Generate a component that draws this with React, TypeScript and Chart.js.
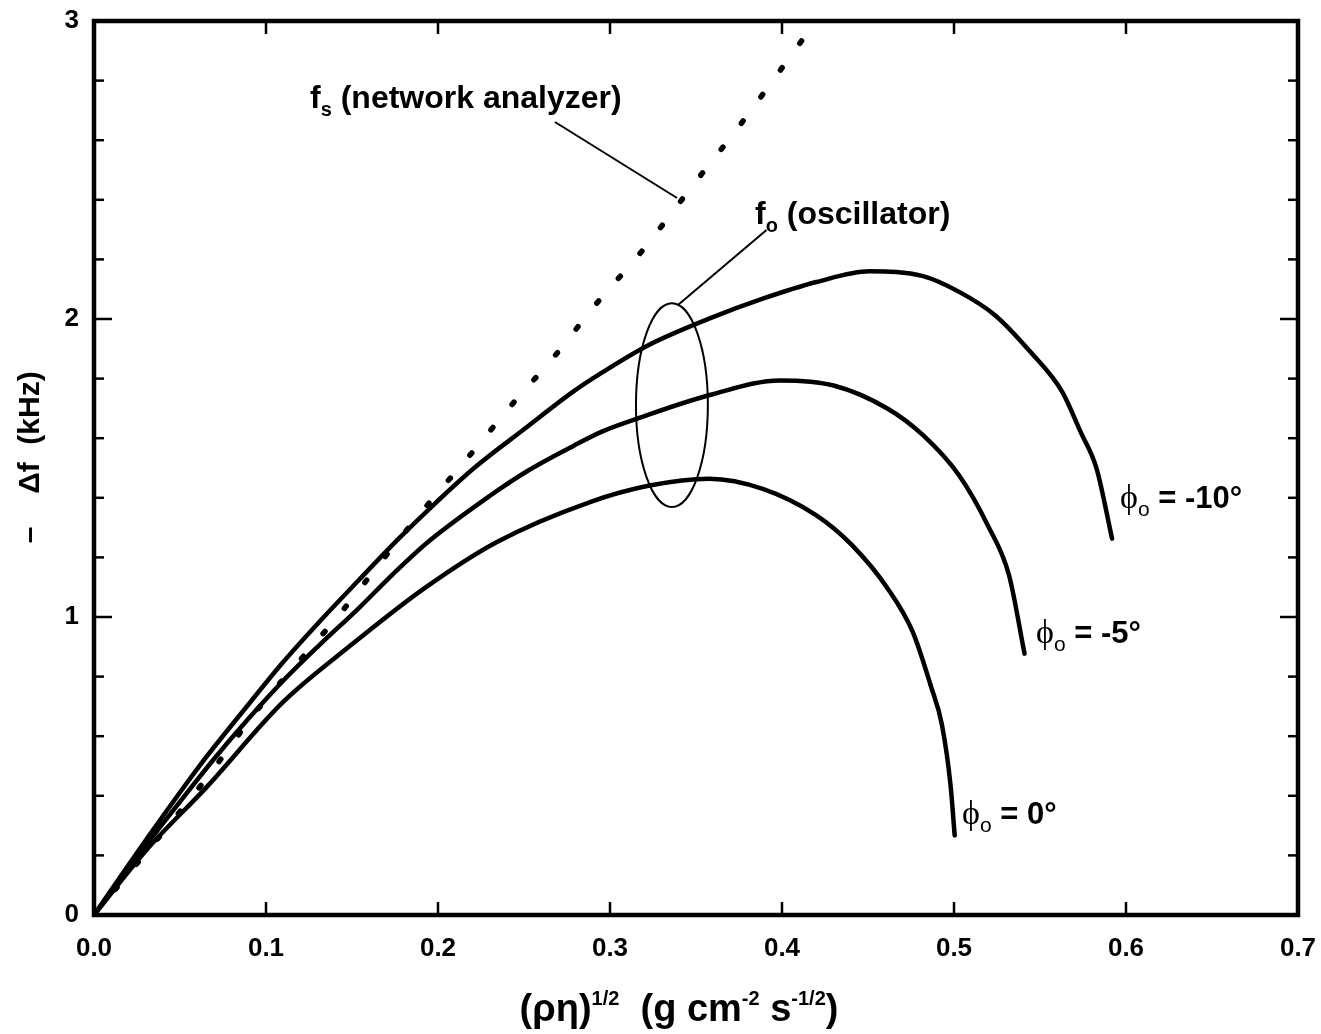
import React, { useEffect, useRef } from "react";
import { Chart, registerables } from "chart.js";

Chart.register(...registerables);

const W = 1321;
const H = 1034;

// Axis ticks
const xTickValues = [0, 0.1, 0.2, 0.3, 0.4, 0.5, 0.6, 0.7];
const yTickValues = [0, 1, 2, 3];
const yMinorTickValues = [0.2, 0.4, 0.6, 0.8, 1.2, 1.4, 1.6, 1.8, 2.2, 2.4, 2.6, 2.8];

// phi_o = 0 deg
const phi0X = [0, 0.03, 0.0656, 0.11, 0.148, 0.192, 0.234, 0.288, 0.323, 0.3576, 0.3888, 0.42, 0.4407, 0.4615, 0.476, 0.4864, 0.493, 0.498, 0.5004];
const phi0Y = [0, 0.215, 0.43, 0.715, 0.899, 1.096, 1.251, 1.385, 1.441, 1.464, 1.43, 1.341, 1.241, 1.095, 0.95, 0.771, 0.638, 0.435, 0.267];

// phi_o = -5 deg
const phi5X = [0, 0.03, 0.05, 0.07, 0.09, 0.11, 0.13, 0.154, 0.174, 0.194, 0.23, 0.252, 0.279, 0.2953, 0.317, 0.3576, 0.399, 0.43, 0.4615, 0.482, 0.503, 0.5196, 0.532, 0.541];
const phi5Y = [0, 0.232, 0.38, 0.525, 0.66, 0.786, 0.9, 1.03, 1.145, 1.251, 1.406, 1.49, 1.575, 1.622, 1.668, 1.744, 1.794, 1.777, 1.699, 1.61, 1.475, 1.308, 1.14, 0.877];

// phi_o = -10 deg
const phi10X = [0, 0.03, 0.0618, 0.09, 0.11, 0.132, 0.154, 0.177, 0.199, 0.221, 0.25, 0.279, 0.2953, 0.3223, 0.3576, 0.3888, 0.42, 0.451, 0.482, 0.503, 0.524, 0.5445, 0.563, 0.5736, 0.5829, 0.5919];
const phi10Y = [0, 0.25, 0.504, 0.708, 0.849, 0.99, 1.124, 1.262, 1.385, 1.5, 1.63, 1.758, 1.82, 1.912, 2.001, 2.068, 2.124, 2.16, 2.144, 2.091, 2.012, 1.889, 1.755, 1.621, 1.498, 1.263];

// f_s (network analyzer), dotted
const fsX = [0, 0.063, 0.0967, 0.121, 0.146, 0.17, 0.194, 0.219, 0.243, 0.268, 0.292, 0.317, 0.352, 0.3756, 0.416];
const fsY = [0, 0.441, 0.701, 0.863, 1.032, 1.208, 1.377, 1.546, 1.713, 1.877, 2.051, 2.217, 2.477, 2.651, 2.97];

// Annotation anchors (data units)
const fsLabelAt = { x: 0.1256, y: 2.708 };
const fsLeader = [{ x: 0.268, y: 2.661 }, { x: 0.339, y: 2.406 }];
const foLabelAt = { x: 0.3843, y: 2.319 };
const foLeader = [{ x: 0.391, y: 2.299 }, { x: 0.3395, y: 2.047 }];
const ellipseAt = { x: 0.336, y: 1.711, rx: 0.0209, ry: 0.342 };
const phiLabels = [
  { value: "-10°", x: 0.5965, y: 1.366 },
  { value: "-5°", x: 0.5477, y: 0.913 },
  { value: "0°", x: 0.5047, y: 0.305 },
];

const SANS = "'Liberation Sans', Arial, Helvetica, sans-serif";
const SERIF = "'Liberation Serif', 'DejaVu Serif', serif";

type Part = { t: string; font: string; dy?: number };

function richWidth(ctx: CanvasRenderingContext2D, parts: Part[]) {
  let w = 0;
  for (const p of parts) {
    ctx.font = p.font;
    w += ctx.measureText(p.t).width;
  }
  return w;
}

function drawRich(ctx: CanvasRenderingContext2D, x: number, y: number, parts: Part[]) {
  let cx = x;
  for (const p of parts) {
    ctx.font = p.font;
    ctx.fillText(p.t, cx, y + (p.dy || 0));
    cx += ctx.measureText(p.t).width;
  }
}

const decorPlugin = {
  id: "decor",
  afterDraw(chart: any) {
    const ctx: CanvasRenderingContext2D = chart.ctx;
    const xs = chart.scales.x;
    const ys = chart.scales.y;
    const { left, right, top, bottom } = chart.chartArea;
    const X = (v: number) => xs.getPixelForValue(v);
    const Y = (v: number) => ys.getPixelForValue(v);
    const seg = (x1: number, y1: number, x2: number, y2: number) => {
      ctx.beginPath();
      ctx.moveTo(x1, y1);
      ctx.lineTo(x2, y2);
      ctx.stroke();
    };

    ctx.save();
    ctx.strokeStyle = "#000";
    ctx.fillStyle = "#000";

    // frame
    ctx.lineWidth = 4.5;
    ctx.lineJoin = "miter";
    ctx.strokeRect(left, top, right - left, bottom - top);

    // inward ticks
    ctx.lineWidth = 2.5;
    for (const v of xTickValues) {
      if (v <= 0 || v >= 0.7) continue;
      const px = X(v);
      seg(px, bottom, px, bottom - 13);
      seg(px, top, px, top + 13);
    }
    for (const v of yMinorTickValues) {
      const py = Y(v);
      seg(left, py, left + 10, py);
      seg(right, py, right - 10, py);
    }
    for (const v of yTickValues) {
      if (v <= 0 || v >= 3) continue;
      const py = Y(v);
      seg(left, py, left + 18, py);
      seg(right, py, right - 18, py);
    }

    // ellipse around oscillator curves
    ctx.lineWidth = 2;
    ctx.beginPath();
    ctx.ellipse(
      X(ellipseAt.x),
      Y(ellipseAt.y),
      X(ellipseAt.x + ellipseAt.rx) - X(ellipseAt.x),
      Y(ellipseAt.y) - Y(ellipseAt.y + ellipseAt.ry),
      0,
      0,
      Math.PI * 2
    );
    ctx.stroke();

    // leader lines
    seg(X(fsLeader[0].x), Y(fsLeader[0].y), X(fsLeader[1].x), Y(fsLeader[1].y));
    seg(X(foLeader[0].x), Y(foLeader[0].y), X(foLeader[1].x), Y(foLeader[1].y));

    ctx.textBaseline = "alphabetic";
    ctx.textAlign = "left";

    const big = `bold 32px ${SANS}`;
    const sub = `bold 20px ${SANS}`;

    // f_s label
    drawRich(ctx, X(fsLabelAt.x), Y(fsLabelAt.y), [
      { t: "f", font: big },
      { t: "s", font: sub, dy: 8 },
      { t: " (network analyzer)", font: big },
    ]);
    // f_o label
    drawRich(ctx, X(foLabelAt.x), Y(foLabelAt.y), [
      { t: "f", font: big },
      { t: "o", font: sub, dy: 8 },
      { t: " (oscillator)", font: big },
    ]);

    // phi labels
    for (const p of phiLabels) {
      drawRich(ctx, X(p.x), Y(p.y), [
        { t: "ϕ", font: `34px ${SERIF}` },
        { t: "o", font: `21px ${SANS}`, dy: 8 },
        { t: " = " + p.value, font: `bold 31px ${SANS}` },
      ]);
    }

    // x axis title
    const mainF = `bold 38px ${SANS}`;
    const supF = `bold 20px ${SANS}`;
    const tParts: Part[] = [
      { t: "(ρη)", font: mainF },
      { t: "1/2", font: supF, dy: -16 },
      { t: "  (g cm", font: mainF },
      { t: "-2", font: supF, dy: -16 },
      { t: " s", font: mainF },
      { t: "-1/2", font: supF, dy: -16 },
      { t: ")", font: mainF },
    ];
    const tw = richWidth(ctx, tParts);
    drawRich(ctx, 679 - tw / 2, 1021, tParts);

    // y axis title (rotated, reads bottom to top)
    ctx.save();
    ctx.translate(31, 0);
    ctx.rotate(-Math.PI / 2);
    ctx.textAlign = "center";
    ctx.textBaseline = "middle";
    ctx.font = `bold 30px ${SANS}`;
    ctx.fillText("(kHz)", -408, 0);
    ctx.fillText("Δf", -478, 0);
    ctx.fillText("–", -535, 0);
    ctx.restore();

    ctx.restore();
  },
};

export default function App() {
  const ref = useRef<HTMLCanvasElement>(null);

  useEffect(() => {
    const canvas = ref.current;
    if (!canvas) return;
    const toPts = (xs: number[], ys: number[]) => xs.map((x, i) => ({ x, y: ys[i] }));
    const line = (xs: number[], ys: number[], extra: any = {}) => ({
      data: toPts(xs, ys),
      borderColor: "#000",
      backgroundColor: "#000",
      borderWidth: 4.5,
      pointRadius: 0,
      fill: false,
      cubicInterpolationMode: "monotone",
      borderCapStyle: "round",
      borderJoinStyle: "round",
      ...extra,
    });

    const chart = new Chart(canvas, {
      type: "line",
      data: {
        datasets: [
          line(phi0X, phi0Y),
          line(phi5X, phi5Y),
          line(phi10X, phi10Y),
          line(fsX, fsY, { borderDash: [3, 30], borderWidth: 5.5 }),
        ] as any,
      },
      options: {
        responsive: false,
        animation: false,
        devicePixelRatio: 1,
        layout: { padding: { top: 21, right: 23, left: 0, bottom: 0 } },
        plugins: { legend: { display: false }, tooltip: { enabled: false } },
        scales: {
          x: {
            type: "linear",
            min: 0,
            max: 0.7,
            grid: { display: false, drawTicks: false },
            border: { display: false },
            afterBuildTicks: (s: any) => {
              s.ticks = xTickValues.map((v) => ({ value: v }));
            },
            afterFit: (s: any) => {
              s.height = 119;
              s.paddingLeft = 0;
              s.paddingRight = 0;
            },
            ticks: {
              callback: (v: any) => Number(v).toFixed(1),
              font: { family: SANS, size: 26, weight: "bold" },
              color: "#000",
              padding: 18,
              maxRotation: 0,
              autoSkip: false,
            },
          },
          y: {
            type: "linear",
            min: 0,
            max: 3,
            grid: { display: false, drawTicks: false },
            border: { display: false },
            afterBuildTicks: (s: any) => {
              s.ticks = yTickValues.map((v) => ({ value: v }));
            },
            afterFit: (s: any) => {
              s.width = 94;
              s.paddingTop = 0;
              s.paddingBottom = 0;
            },
            ticks: {
              callback: (v: any) => String(Math.round(Number(v))),
              font: { family: SANS, size: 26, weight: "bold" },
              color: "#000",
              padding: 15,
              autoSkip: false,
            },
          },
        },
      } as any,
      plugins: [decorPlugin],
    });

    return () => chart.destroy();
  }, []);

  return (
    <div style={{ position: "fixed", left: 0, top: 0, width: W, height: H, background: "#fff" }}>
      <canvas ref={ref} width={W} height={H} style={{ display: "block", width: W, height: H }} />
    </div>
  );
}
